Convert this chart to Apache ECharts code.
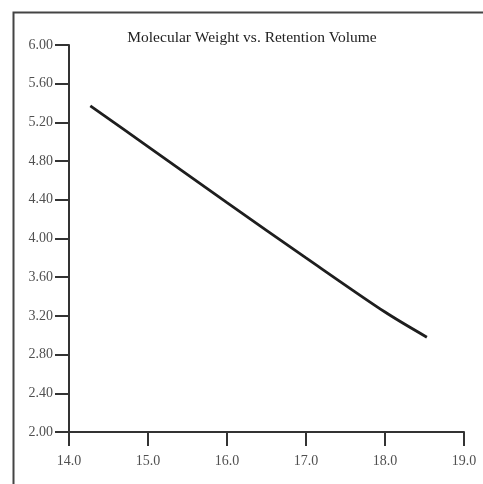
<!DOCTYPE html>
<html>
<head>
<meta charset="utf-8">
<script src="https://cdn.jsdelivr.net/npm/echarts@6/dist/echarts.min.js"></script>
<style>
html,body{margin:0;padding:0;background:#fff;}
#chart{width:483px;height:484px;}
</style>
</head>
<body>
<div id="chart"></div>
<script>
var titleText = 'Molecular Weight vs. Retention Volume';
var retentionVolume = [14.27, 15.0, 16.0, 17.0, 18.0, 18.53];
var logMW = [5.37, 4.95, 4.37, 3.80, 3.24, 2.98];
var xTicks = [14.0, 15.0, 16.0, 17.0, 18.0, 19.0];
var yTicks = [2.00, 2.40, 2.80, 3.20, 3.60, 4.00, 4.40, 4.80, 5.20, 5.60, 6.00];

var chart = echarts.init(document.getElementById('chart'), null, {renderer: 'canvas'});
var fontFam = '"Liberation Serif", "DejaVu Serif", serif';
chart.setOption({
  animation: false,
  backgroundColor: '#fff',
  graphic: [{
    type: 'rect', left: 11, top: 10, silent: true,
    shape: {width: 500, height: 500},
    style: {fill: 'none', stroke: '#444', lineWidth: 2}
  }, {
    type: 'text', x: 252, y: 38, silent: true,
    style: {text: titleText, fontFamily: fontFam, fontSize: 15.5, fill: '#222',
      textAlign: 'center', textVerticalAlign: 'middle'}
  }],
  grid: {left: 69, right: 19, top: 45, bottom: 52},
  xAxis: {
    type: 'value', min: xTicks[0], max: xTicks[xTicks.length - 1], interval: 1,
    axisLine: {lineStyle: {color: '#333', width: 2}},
    axisTick: {length: 14, lineStyle: {color: '#333', width: 2}},
    axisLabel: {margin: 22, fontFamily: fontFam, fontSize: 14, color: '#505050',
      formatter: function (v) { return v.toFixed(1); }},
    splitLine: {show: false}
  },
  yAxis: {
    type: 'value', min: yTicks[0], max: yTicks[yTicks.length - 1], interval: 0.4,
    axisLine: {lineStyle: {color: '#333', width: 2}},
    axisTick: {length: 14, lineStyle: {color: '#333', width: 2}},
    axisLabel: {margin: 16, fontFamily: fontFam, fontSize: 14, color: '#505050',
      formatter: function (v) { return v.toFixed(2); }},
    splitLine: {show: false}
  },
  series: [{
    type: 'line',
    data: retentionVolume.map(function (x, i) { return [x, logMW[i]]; }),
    smooth: 0.3, showSymbol: false,
    lineStyle: {color: '#1e1e1e', width: 2.8}
  }]
});
</script>
</body>
</html>
